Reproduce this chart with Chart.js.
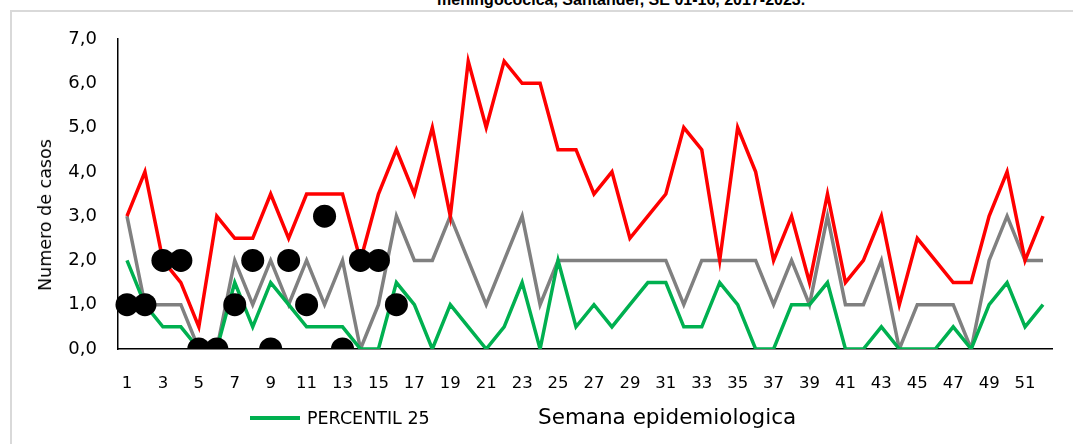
<!DOCTYPE html>
<html>
<head>
<meta charset="utf-8">
<script src="https://cdn.jsdelivr.net/npm/chart.js@4.4.0/dist/chart.umd.min.js"></script>
<style>
  html, body { margin: 0; padding: 0; background: #fff; }
  #wrap { position: relative; width: 1073px; height: 444px; overflow: hidden; background: #fff; }
  #frame { position: absolute; left: 10px; top: 10px; width: 1100px; height: 500px; border: 2px solid #d9d9d9; box-sizing: border-box; }
  #title { position: absolute; left: 437px; top: -9px; font: bold 16px "Liberation Sans", Arial, sans-serif; color: #000; white-space: nowrap; line-height: 18px; }
  #legend { position: absolute; left: 250px; top: 405px; height: 26px; display: flex; align-items: center; font: 17.5px "DejaVu Sans", sans-serif; color: #000; white-space: nowrap; }
  #legend .swatch { width: 50px; height: 4px; background: #00B050; margin-right: 7px; }
  #xtitle { position: absolute; left: 538px; top: 404px; height: 28px; line-height: 28px; font: 21.5px "DejaVu Sans", sans-serif; color: #000; white-space: nowrap; }
  #ytitle { position: absolute; left: 45px; top: 215px; line-height: 22px; font: 17.5px "DejaVu Sans", sans-serif; color: #000; white-space: nowrap; transform: translate(-50%, -50%) rotate(-90deg); }
  canvas { position: absolute; left: 0; top: 0; }
</style>
</head>
<body>
<div id="wrap">
  <div id="frame"></div>
  <div id="title">meningocócica, Santander, SE 01-16, 2017-2023.</div>
  <canvas id="c" width="1073" height="444"></canvas>
  <div id="legend"><div class="swatch"></div><span id="legendText"></span></div>
  <div id="xtitle"></div>
  <div id="ytitle"></div>
</div>
<script>
const weeks = ['1','2','3','4','5','6','7','8','9','10','11','12','13','14','15','16','17','18','19','20','21','22','23','24','25','26','27','28','29','30','31','32','33','34','35','36','37','38','39','40','41','42','43','44','45','46','47','48','49','50','51','52'];
const casos2023 = [1,1,2,2,0,0,1,2,0,2,1,3,0,2,2,1];
const percentil75 = [3,4,2,1.5,0.5,3,2.5,2.5,3.5,2.5,3.5,3.5,3.5,2,3.5,4.5,3.5,5,3,6.5,5,6.5,6,6,4.5,4.5,3.5,4,2.5,3,3.5,5,4.5,2,5,4,2,3,1.5,3.5,1.5,2,3,1,2.5,2,1.5,1.5,3,4,2,3];
const mediana = [3,1,1,1,0,0,2,1,2,1,2,1,2,0,1,3,2,2,3,2,1,2,3,1,2,2,2,2,2,2,2,1,2,2,2,2,1,2,1,3,1,1,2,0,1,1,1,0,2,3,2,2];
const percentil25 = [2,1,0.5,0.5,0,0,1.5,0.5,1.5,1,0.5,0.5,0.5,0,0,1.5,1,0,1,0.5,0,0.5,1.5,0,2,0.5,1,0.5,1,1.5,1.5,0.5,0.5,1.5,1,0,0,1,1,1.5,0,0,0.5,0,0,0,0.5,0,1,1.5,0.5,1];
const yTicks = [0,1,2,3,4,5,6,7];
const legendLabel = 'PERCENTIL 25';
const xTitle = 'Semana epidemiologica';
const yTitle = 'Numero de casos';
document.getElementById('legendText').textContent = legendLabel;
document.getElementById('xtitle').textContent = xTitle;
document.getElementById('ytitle').textContent = yTitle;

const lineDs = (label, data, color) => ({
  label, data, borderColor: color, backgroundColor: color, borderWidth: 3.5,
  pointRadius: 0, tension: 0, fill: false, borderJoinStyle: 'miter'
});

new Chart(document.getElementById('c'), {
  type: 'line',
  data: {
    labels: weeks,
    datasets: [
      { label: '2023', data: casos2023, showLine: false, pointRadius: 11.5, pointHoverRadius: 11.5,
        pointBackgroundColor: '#000', pointBorderWidth: 0, borderColor: '#000', backgroundColor: '#000' },
      lineDs('PERCENTIL 75', percentil75, '#FF0000'),
      lineDs(legendLabel, percentil25, '#00B050'),
      lineDs('MEDIANA', mediana, '#808080')
    ]
  },
  options: {
    responsive: false,
    animation: false,
    layout: { padding: { left: 0, right: 21, top: 39, bottom: 0 } },
    plugins: { legend: { display: false }, tooltip: { enabled: false }, title: { display: false } },
    scales: {
      x: {
        offset: true,
        grid: { display: false, drawTicks: false },
        border: { display: true, color: '#000', width: 1.5 },
        ticks: {
          autoSkip: false, maxRotation: 0, padding: 25, color: '#000',
          font: { family: 'DejaVu Sans', size: 16.5 },
          callback: function(v, i) { return i % 2 === 0 ? weeks[i] : ''; }
        },
        title: { display: false },
        afterFit: s => { s.height = 95; }
      },
      y: {
        min: 0, max: 7,
        grid: { display: false, drawTicks: false },
        border: { display: true, color: '#000', width: 1.5 },
        afterBuildTicks: s => { s.ticks = yTicks.map(v => ({ value: v })); },
        ticks: {
          padding: 21, color: '#000',
          font: { family: 'DejaVu Sans', size: 18 },
          callback: v => v.toFixed(1).replace('.', ',')
        },
        title: { display: false },
        afterFit: s => { s.width = 118; }
      }
    }
  }
});
</script>
</body>
</html>
